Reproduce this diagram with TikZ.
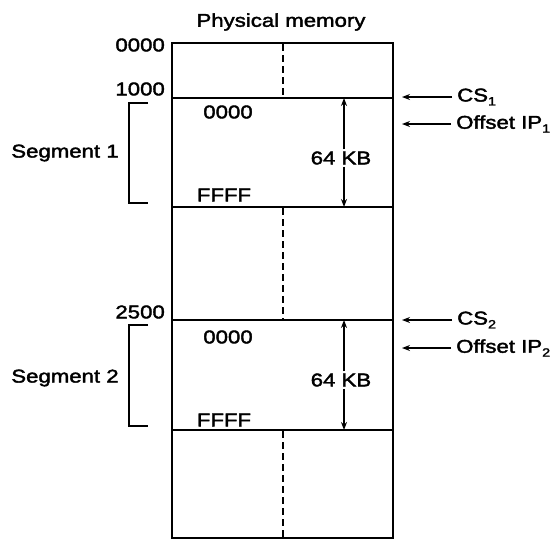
\documentclass[tikz,border=0pt]{standalone}
\usepackage{fontspec}
\setmainfont{Liberation Sans}[FakeStretch=1.2, FakeBold=2]
\usetikzlibrary{arrows.meta}
\newcommand{\lbl}{\fontsize{18.5}{20}\selectfont}
\newcommand{\subs}[1]{\raisebox{-0.4ex}{\fontsize{12}{12}\selectfont #1}}
\begin{document}
\begin{tikzpicture}[x=1pt,y=-1pt,
  txt/.style={inner sep=0pt,font=\lbl},
  frame/.style={line width=2.2pt},
  dashv/.style={line width=2.4pt,dash pattern=on 7pt off 4pt},
  arr/.style={line width=2pt,-{Stealth[length=8pt,width=6pt]}},
  brk/.style={line width=2pt}]
\useasboundingbox (0,0) rectangle (554,541);
% frame
\draw[frame] (172,43) rectangle (393,538);
\draw[frame] (172,98) -- (393,98);
\draw[frame] (172,207) -- (393,207);
\draw[frame] (172,320) -- (393,320);
\draw[frame] (172,430) -- (393,430);
% dashed center lines
\draw[dashv] (283,44) -- (283,97);
\draw[dashv] (283,208) -- (283,319);
\draw[dashv] (283,431) -- (283,537);
% title
\node[txt] (title) at (281,22) {Physical memory};
% addresses
\node[txt,anchor=east] (a0) at (165,45) {0000};
\node[txt,anchor=east] (a1) at (165,89) {1000};
\node[txt,anchor=east] (a2) at (165,312) {2500};
% segment contents
\node[txt] (s1a) at (228,112) {0000};
\node[txt] (s1b) at (224,195) {FFFF};
\node[txt] (s2a) at (228,337) {0000};
\node[txt] (s2b) at (224,420) {FFFF};
% 64 KB
\coordinate (k1t) at (344,98);
\coordinate (k1b) at (344,207);
\coordinate (k2t) at (344,320);
\coordinate (k2b) at (344,430);
\node[txt,fill=white,inner sep=2pt] (kb1) at (341,158) {64 KB};
\node[txt,fill=white,inner sep=2pt] (kb2) at (341,380) {64 KB};
\draw[arr] (kb1.north -| k1t) -- (k1t);
\draw[arr] (kb1.south -| k1b) -- (k1b);
\draw[arr] (kb2.north -| k2t) -- (k2t);
\draw[arr] (kb2.south -| k2b) -- (k2b);
% segment labels and brackets
\node[txt] (seg1) at (65,153) {Segment 1};
\node[txt] (seg2) at (65,378) {Segment 2};
\draw[brk] (148,103) -- (129,103) -- (129,203) -- (148,203);
\draw[brk] (148,325) -- (129,325) -- (129,426) -- (148,426);
% right labels
\node[txt,anchor=west] (cs1) at (457,97) {CS\subs{1}};
\node[txt,anchor=west] (ip1) at (456,124) {Offset IP\subs{1}};
\node[txt,anchor=west] (cs2) at (457,320) {CS\subs{2}};
\node[txt,anchor=west] (ip2) at (456,348) {Offset IP\subs{2}};
\coordinate (t1) at (402,97);
\coordinate (t2) at (402,124);
\coordinate (t3) at (402,320);
\coordinate (t4) at (402,348);
\draw[arr] ([xshift=-5pt]cs1.west) -- (t1);
\draw[arr] ([xshift=-5pt]ip1.west) -- (t2);
\draw[arr] ([xshift=-5pt]cs2.west) -- (t3);
\draw[arr] ([xshift=-5pt]ip2.west) -- (t4);
\end{tikzpicture}
\end{document}
